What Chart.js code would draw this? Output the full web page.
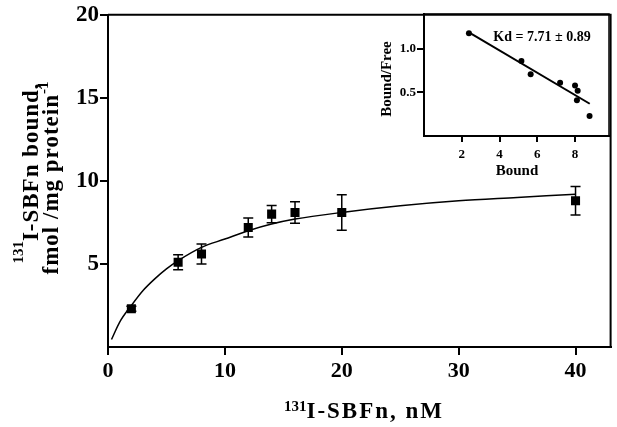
<!DOCTYPE html>
<html>
<head>
<meta charset="utf-8">
<script src="https://cdn.jsdelivr.net/npm/chart.js@4.4.1/dist/chart.umd.min.js"></script>
<style>
  html, body { margin: 0; padding: 0; background: #fff; }
  #wrap { position: relative; width: 617px; height: 427px; }
  #main { position: absolute; left: 0; top: 0; }
  #inset { position: absolute; left: 370px; top: 0; }
</style>
</head>
<body>
<div id="wrap">
  <canvas id="main" width="617" height="427"></canvas>
  <canvas id="inset" width="247" height="185"></canvas>
</div>
<script>
// saturation data (main plot)
const concNM = [2, 6, 8, 12, 14, 16, 20, 40];
const boundMean = [2.3, 5.1, 5.6, 7.2, 8.0, 8.1, 8.1, 8.8];
const boundErr = [0.15, 0.45, 0.6, 0.57, 0.52, 0.65, 1.07, 0.86];
// fitted curve
const curveX = [0.3, 1, 2, 3, 4, 5, 6, 8, 10, 12, 14, 16, 20, 25, 30, 35, 40];
const curveY = [0.45, 1.5, 2.5, 3.4, 4.1, 4.7, 5.2, 6.0, 6.5, 7.0, 7.4, 7.7, 8.1, 8.5, 8.8, 9.0, 9.2];
const mainXTicks = [0, 10, 20, 30, 40];
const mainYTicks = [5, 10, 15, 20];

// scatchard inset
const scatBound = [2.38, 5.16, 5.65, 7.21, 8.0, 8.14, 8.1, 8.77];
const scatRatio = [1.18, 0.86, 0.71, 0.61, 0.58, 0.52, 0.41, 0.23];
const scatLineX = [2.38, 8.78];
const scatLineY = [1.19, 0.37];
const insetXTicks = [2, 4, 6, 8];
const insetYTicks = [0.5, 1.0];

const SERIF = '"Liberation Serif", "Times New Roman", serif';

function pts(xs, ys) {
    return xs.map((x, i) => ({ x: x, y: ys[i] }));
}

// draws text with a superscript part, centered on cx
function drawRich(ctx, parts, cx, cy, size, supSize, raise, spacing) {
    ctx.save();
    ctx.textBaseline = 'alphabetic';
    ctx.textAlign = 'left';
    let total = 0;
    const widths = parts.map(p => {
        ctx.font = 'bold ' + (p.sup ? supSize : size) + 'px ' + SERIF;
        ctx.letterSpacing = (p.sup ? 0 : spacing) + 'px';
        const w = ctx.measureText(p.t).width;
        total += w;
        return w;
    });
    let x = cx - total / 2;
    parts.forEach((p, i) => {
        ctx.font = 'bold ' + (p.sup ? supSize : size) + 'px ' + SERIF;
        ctx.letterSpacing = (p.sup ? 0 : spacing) + 'px';
        ctx.fillText(p.t, x, p.sup ? cy - raise : cy);
        x += widths[i];
    });
    ctx.restore();
}

const mainDeco = {
    id: 'mainDeco',
    afterDatasetsDraw(chart) {
        const ctx = chart.ctx;
        const xs = chart.scales.x, ys = chart.scales.y;
        const a = chart.chartArea;
        ctx.save();
        // error bars
        ctx.strokeStyle = '#000';
        ctx.lineWidth = 1.5;
        concNM.forEach((c, i) => {
            const px = xs.getPixelForValue(c);
            const top = ys.getPixelForValue(boundMean[i] + boundErr[i]);
            const bot = ys.getPixelForValue(boundMean[i] - boundErr[i]);
            ctx.beginPath();
            ctx.moveTo(px, top); ctx.lineTo(px, bot);
            ctx.moveTo(px - 5, top); ctx.lineTo(px + 5, top);
            ctx.moveTo(px - 5, bot); ctx.lineTo(px + 5, bot);
            ctx.stroke();
        });
        // top and right frame
        ctx.lineWidth = 2;
        ctx.beginPath();
        ctx.moveTo(a.left, a.top); ctx.lineTo(a.right, a.top); ctx.lineTo(a.right, a.bottom);
        ctx.stroke();
        ctx.restore();

        ctx.fillStyle = '#000';
        drawRich(ctx, [{ t: '131', sup: true }, { t: 'I-SBFn, nM' }], 364, 418, 23, 15, 7, 2);
        ctx.save();
        ctx.translate(38, 173);
        ctx.rotate(-Math.PI / 2);
        drawRich(ctx, [{ t: '131', sup: true }, { t: 'I-SBFn bound,' }], 0, 0, 23, 15, 15, 1);
        ctx.restore();
        ctx.save();
        ctx.translate(58, 178);
        ctx.rotate(-Math.PI / 2);
        drawRich(ctx, [{ t: 'fmol /mg protein' }, { t: '-1', sup: true }], 0, 0, 23, 15, 10, 1);
        ctx.restore();
    }
};

function axisOpts(min, max, tickVals, size, tickLen, pad, fit, fmt) {
    return {
        type: 'linear',
        min: min,
        max: max,
        afterBuildTicks: s => { s.ticks = tickVals.map(v => ({ value: v })); },
        afterFit: fit,
        grid: { drawOnChartArea: false, drawTicks: true, tickLength: tickLen, color: '#000', lineWidth: 2 },
        border: { display: true, color: '#000', width: 2 },
        ticks: {
            color: '#000',
            padding: pad,
            maxRotation: 0,
            autoSkip: false,
            font: { family: SERIF, size: size, weight: 'bold' },
            callback: fmt || (v => v)
        }
    };
}

new Chart(document.getElementById('main'), {
    type: 'scatter',
    data: {
        datasets: [
            {
                data: pts(curveX, curveY),
                showLine: true,
                borderColor: '#000',
                borderWidth: 1.5,
                pointRadius: 0,
                cubicInterpolationMode: 'monotone'
            },
            {
                data: pts(concNM, boundMean),
                pointStyle: 'rect',
                pointRadius: 6.4,
                backgroundColor: '#000',
                borderWidth: 0
            }
        ]
    },
    options: {
        responsive: false,
        animation: false,
        layout: { padding: { top: 12, right: 5, left: 0, bottom: 0 } },
        plugins: { legend: { display: false }, tooltip: { enabled: false } },
        scales: {
            x: axisOpts(0, 43, mainXTicks, 22, 8, 3, s => { s.height = 80; }),
            y: axisOpts(0, 20, mainYTicks, 23, 8, 1, s => { s.width = 108; })
        }
    },
    plugins: [mainDeco]
});

const insetDeco = {
    id: 'insetDeco',
    afterDatasetsDraw(chart) {
        const ctx = chart.ctx;
        const a = chart.chartArea;
        ctx.save();
        ctx.strokeStyle = '#000';
        ctx.lineWidth = 1.5;
        ctx.beginPath();
        ctx.moveTo(a.left, a.top); ctx.lineTo(a.right, a.top); ctx.lineTo(a.right, a.bottom);
        ctx.stroke();
        ctx.fillStyle = '#000';
        ctx.textAlign = 'center';
        ctx.textBaseline = 'middle';
        ctx.font = 'bold 14px ' + SERIF;
        ctx.fillText('Kd = 7.71 \u00b1 0.89', 172, 37);
        ctx.font = 'bold 15px ' + SERIF;
        ctx.fillText('Bound', 147, 171);
        ctx.translate(17, 79);
        ctx.rotate(-Math.PI / 2);
        ctx.fillText('Bound/Free', 0, 0);
        ctx.restore();
    }
};

new Chart(document.getElementById('inset'), {
    type: 'scatter',
    data: {
        datasets: [
            {
                data: pts(scatLineX, scatLineY),
                showLine: true,
                borderColor: '#000',
                borderWidth: 2,
                pointRadius: 0
            },
            {
                data: pts(scatBound, scatRatio),
                pointRadius: 3,
                backgroundColor: '#000',
                borderWidth: 0
            }
        ]
    },
    options: {
        responsive: false,
        animation: false,
        layout: { padding: { top: 14, right: 8, left: 0, bottom: 0 } },
        plugins: { legend: { display: false }, tooltip: { enabled: false } },
        scales: {
            x: axisOpts(0, 9.8, insetXTicks, 13, 6, 5, s => { s.height = 49; }),
            y: axisOpts(0, 1.4, insetYTicks, 13, 7, 1, s => { s.width = 54; }, v => v.toFixed(1))
        }
    },
    plugins: [insetDeco]
});
</script>
</body>
</html>
